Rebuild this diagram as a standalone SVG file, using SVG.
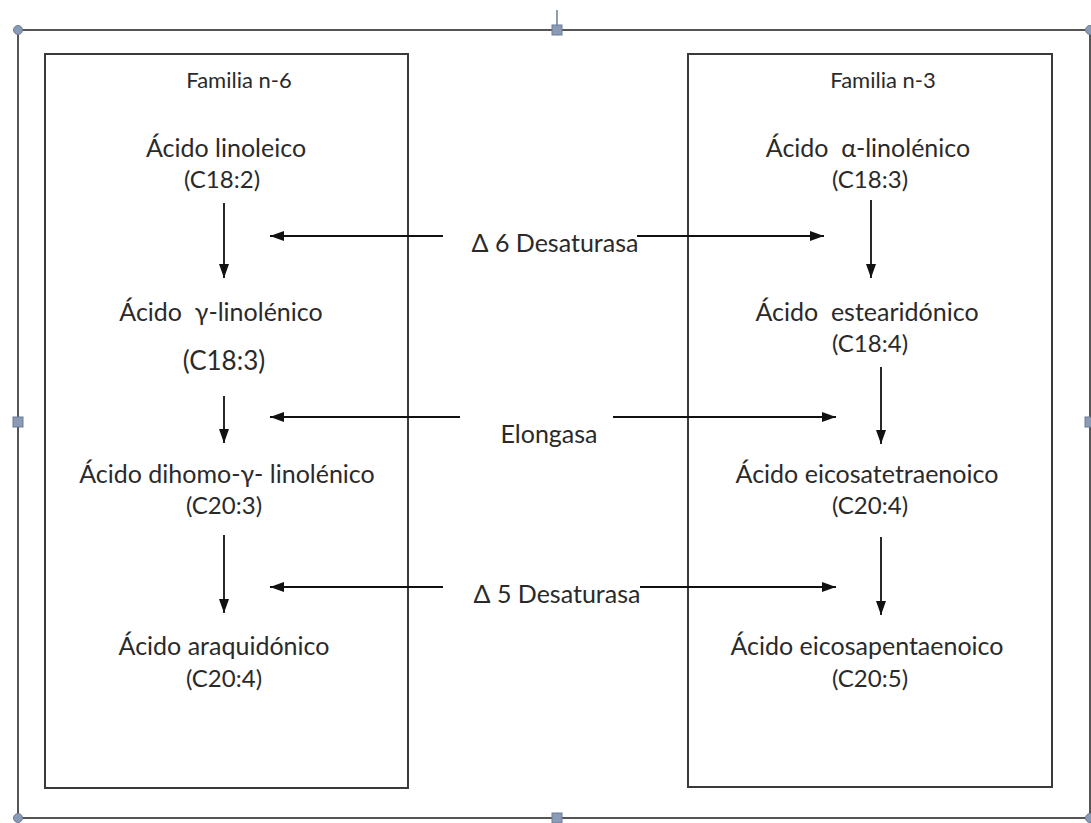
<svg xmlns="http://www.w3.org/2000/svg" width="1091" height="823" viewBox="0 0 1091 823">
<defs>
<marker id="ah" viewBox="0 0 14 10" refX="14" refY="5" markerWidth="14" markerHeight="10" markerUnits="userSpaceOnUse" orient="auto">
<path d="M0,0 L14,5 L0,10 z" fill="#111"/>
</marker>
</defs>
<style>
.t{font-family:Lato,"Open Sans","Liberation Sans",sans-serif;font-size:25px;fill:#2a2a2a;text-anchor:middle;white-space:pre}
.s{font-size:24px}
.hd{font-size:22px}
.box{fill:none;stroke:#3a3a3a;stroke-width:2}
.frame{fill:none;stroke:#555;stroke-width:2}
.c{stroke:#111;stroke-width:1.8;fill:none;marker-end:url(#ah)}
.h{fill:#8a9bb5;stroke:#6a7c98;stroke-width:1}
</style>
<rect width="1091" height="823" fill="#fff"/>
<g id="frame">
<rect class="frame" x="18" y="30" width="1072" height="788"/>
<line x1="557" y1="10" x2="557" y2="30" stroke="#6a7c98" stroke-width="1.5"/>
<circle class="h" cx="18" cy="30" r="4.5"/>
<circle class="h" cx="18" cy="818" r="4.5"/>
<circle class="h" cx="1090" cy="30" r="4.5"/>
<circle class="h" cx="1090" cy="818" r="4.5"/>
<rect class="h" x="552" y="25" width="10" height="10"/>
<rect class="h" x="552" y="813" width="10" height="10"/>
<rect class="h" x="13" y="417" width="10" height="10"/>
<rect class="h" x="1085" y="417" width="10" height="10"/>
</g>
<g id="familia-n6">
<rect class="box" x="45" y="54" width="363" height="734"/>
<text class="t hd" x="239" y="88">Familia n-6</text>
</g>
<g id="familia-n3">
<rect class="box" x="688" y="54" width="364" height="733"/>
<text class="t hd" x="883" y="88">Familia n-3</text>
</g>
<g id="linoleico"><text class="t" x="226" y="157">Ácido linoleico</text><text class="t s" x="222" y="188">(C18:2)</text></g>
<g id="gamma-linolenico"><text class="t" x="221" y="321">Ácido  γ-linolénico</text><text class="t s" x="224" y="370" style="font-size:26px">(C18:3)</text></g>
<g id="dihomo"><text class="t" x="227" y="483">Ácido dihomo-γ- linolénico</text><text class="t s" x="224" y="514">(C20:3)</text></g>
<g id="araquidonico"><text class="t" x="224" y="655">Ácido araquidónico</text><text class="t s" x="224" y="687">(C20:4)</text></g>
<g id="alfa-linolenico"><text class="t" x="868" y="157">Ácido  α-linolénico</text><text class="t s" x="870" y="188">(C18:3)</text></g>
<g id="estearidonico"><text class="t" x="867" y="321">Ácido  estearidónico</text><text class="t s" x="870" y="352">(C18:4)</text></g>
<g id="eicosatetraenoico"><text class="t" x="867" y="483">Ácido eicosatetraenoico</text><text class="t s" x="870" y="514">(C20:4)</text></g>
<g id="eicosapentaenoico"><text class="t" x="867" y="655">Ácido eicosapentaenoico</text><text class="t s" x="870" y="687">(C20:5)</text></g>
<g id="enzimas">
<text class="t" x="555" y="252">Δ 6 Desaturasa</text>
<text class="t" x="549" y="443">Elongasa</text>
<text class="t" x="557" y="603">Δ 5 Desaturasa</text>
</g>
<g id="connectors">
<line class="c" x1="224" y1="203" x2="224" y2="278"/>
<line class="c" x1="224" y1="396" x2="224" y2="443"/>
<line class="c" x1="224" y1="535" x2="224" y2="613"/>
<line class="c" x1="871" y1="200" x2="871" y2="278"/>
<line class="c" x1="881" y1="367" x2="881" y2="444"/>
<line class="c" x1="881" y1="537" x2="881" y2="615"/>
<line class="c" x1="443" y1="236" x2="270" y2="236"/>
<line class="c" x1="637" y1="236" x2="824" y2="236"/>
<line class="c" x1="460" y1="417" x2="270" y2="417"/>
<line class="c" x1="613" y1="417" x2="836" y2="417"/>
<line class="c" x1="443" y1="587" x2="270" y2="587"/>
<line class="c" x1="640" y1="587" x2="836" y2="587"/>
</g>
</svg>
